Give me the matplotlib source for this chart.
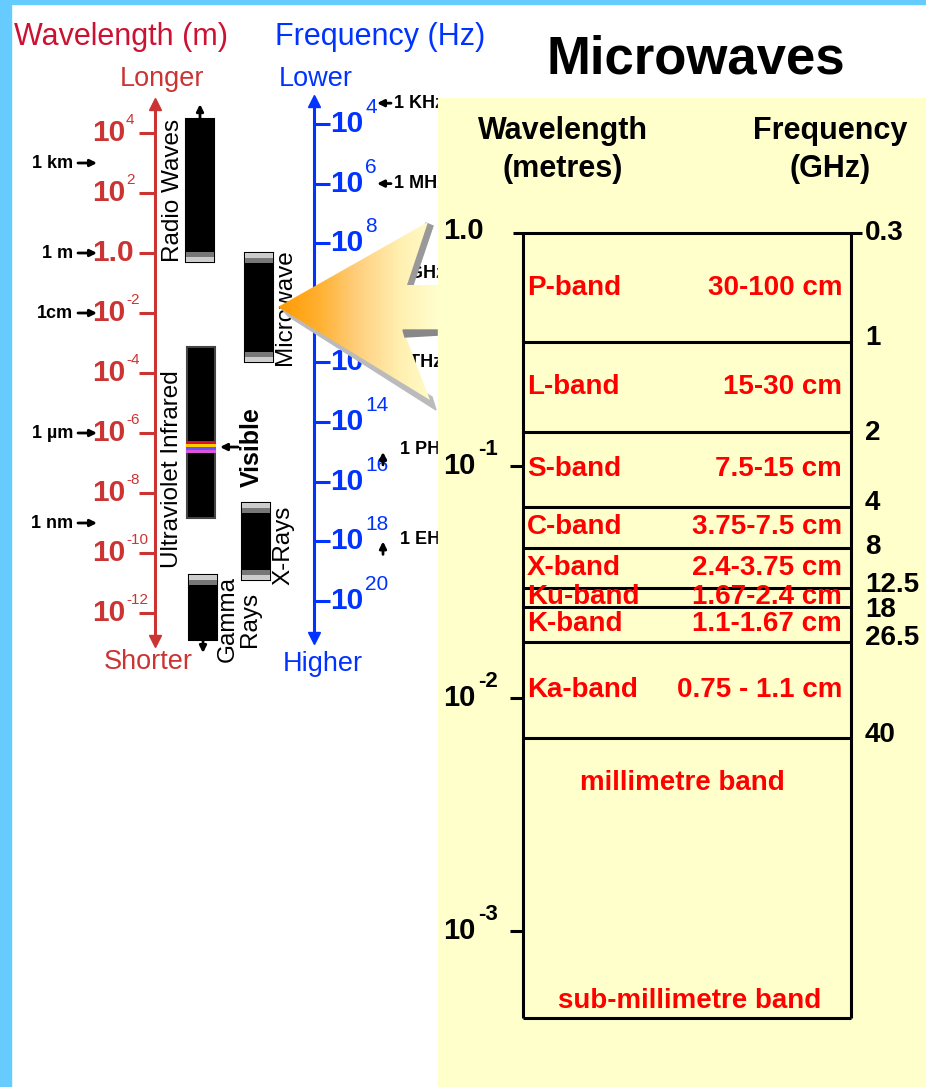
import numpy as np
import matplotlib
matplotlib.use("Agg")
import matplotlib.pyplot as plt
from matplotlib.patches import Rectangle, Polygon
from matplotlib.colors import LinearSegmentedColormap
from matplotlib.ticker import NullLocator

plt.rcParams["font.family"] = ["Liberation Sans", "DejaVu Sans"]

# ---- left: electromagnetic spectrum (wavelength in m, frequency in Hz) ----
wl_tick_exp = [4, 2, 0, -2, -4, -6, -8, -10, -12]
freq_tick_exp = [4, 6, 8, 10, 12, 14, 16, 18, 20]

wl_marks = ["1 km", "1 m", "1cm", "1 µm", "1 nm"]
wl_mark_m = [1e3, 1.0, 1e-2, 1e-6, 1e-9]

freq_marks = ["1 KHz", "1 MHz", "1 GHz", "1 THz", "1 PHz", "1 EHz"]
freq_mark_hz = [2e3, 1e6, 1e9, 1e12, 1e15, 1e18]

spectrum = ["Radio Waves", "Microwave", "Ultraviolet Infrared", "X-Rays", "Gamma\nRays"]
spectrum_long_m = [2.9e4, 1.0, 7.4e-4, 4.6e-9, 1.85e-11]
spectrum_short_m = [0.5, 2.3e-4, 1.5e-9, 1.26e-11, 1.26e-13]
visible_edges_m = [5.4e-7, 4.3e-7, 3.4e-7, 2.7e-7, 2.15e-7]

# ---- right: microwave bands ----
band_names = ["P-band", "L-band", "S-band", "C-band", "X-band", "Ku-band", "K-band", "Ka-band"]
band_ranges = ["30-100 cm", "15-30 cm", "7.5-15 cm", "3.75-7.5 cm", "2.4-3.75 cm",
               "1.67-2.4 cm", "1.1-1.67 cm", "0.75 - 1.1 cm"]
edge_ghz = ["0.3", "1", "2", "4", "8", "12.5", "18", "26.5", "40"]
edge_wl_m = [1.0, 0.340, 0.140, 0.0664, 0.0443, 0.0298, 0.0247, 0.0175, 0.00676]
box_bottom_m = 0.000423
mw_tick_exp = [0, -1, -2, -3]

RED_HEAD = "#CC1133"
RED = "#CC3333"
BLUE = "#0033FF"
BAND_RED = "#FF0000"
PANEL = "#FFFFCC"
BORDER = "#66CCFF"

W, H = 926, 1087
fig = plt.figure(figsize=(W / 100, H / 100), dpi=100)
fig.patch.set_facecolor("white")


def pixel_axes(z):
    ax = fig.add_axes([0, 0, 1, 1], zorder=z)
    ax.set_xlim(0, W)
    ax.patch.set_visible(False)
    ax.set_xticks([])
    for s in ax.spines.values():
        s.set_visible(False)
    return ax


def log_axis(ax, v_top, y_top, v_bot, y_bot):
    # log y axis: value v_top sits on pixel row y_top, v_bot on row y_bot
    k = (np.log10(v_bot) - np.log10(v_top)) / (y_bot - y_top)
    ax.set_yscale("log")
    ax.set_ylim(10 ** (np.log10(v_top) + k * (H - y_top)),
                10 ** (np.log10(v_top) - k * y_top))
    ax.yaxis.set_minor_locator(NullLocator())
    return 10 ** abs(k)  # factor per pixel


def row(ax, y):
    return ax.transData.inverted().transform((0, H - y))[1]


def off(ax, text, x, v, dy=0, **kw):
    ax.annotate(text, (x, v), xytext=(0, dy), textcoords="offset pixels",
                annotation_clip=False, **kw)


def arrow(ax, x, v, dx, dy, head_at_xy=True):
    ax.annotate("", (x, v), xytext=(dx, dy), textcoords="offset pixels",
                annotation_clip=False,
                arrowprops=dict(arrowstyle="-|>" if head_at_xy else "<|-", color="black",
                                lw=2, mutation_scale=10, shrinkA=0, shrinkB=0))


# ---------------- wavelength axis ----------------
ax_wl = pixel_axes(1)
f_wl = log_axis(ax_wl, 1e4, 133, 1e-12, 613)
sp = ax_wl.spines["left"]
sp.set_visible(True)
sp.set_position(("data", 155))
sp.set_bounds(row(ax_wl, 641), row(ax_wl, 104))
sp.set_color(RED)
sp.set_linewidth(2.2)
ax_wl.set_yticks([10.0 ** e for e in wl_tick_exp])
ax_wl.tick_params(axis="y", direction="out", length=11.5, width=2.2, color=RED, labelleft=False)
ax_wl.plot([155], [row(ax_wl, 104)], marker="^", ms=9, color=RED, clip_on=False)
ax_wl.plot([155], [row(ax_wl, 641)], marker="v", ms=9, color=RED, clip_on=False)

num = dict(fontweight="bold", fontsize=21.5, color=RED)
for e in wl_tick_exp:
    v = 10.0 ** e
    if e == 0:
        off(ax_wl, "1.0", 134, v, ha="right", va="center", **num)
    else:
        off(ax_wl, "10", 125, v, ha="right", va="center", **num)
        off(ax_wl, str(e), 126, v, 6, ha="left", va="bottom", fontsize=11, color=RED)

for lbl, v in zip(wl_marks, wl_mark_m):
    off(ax_wl, lbl, 73, v, ha="right", va="center", fontsize=13,
        fontweight="bold", color="black")
    arrow(ax_wl, 97, v, -19, 0)

# spectrum bars
bar_x = [200, 259, 201, 256, 203]
fade_top = [False, True, False, True, True]
fade_bot = [True, True, False, True, False]
label_x = [173, 285, 172, 283, 239]
label_drop = [0, 3, 50, 5, 22]
f5 = f_wl ** 5
for i, name in enumerate(spectrum):
    lo, hi = spectrum_short_m[i], spectrum_long_m[i]
    ec = "#444444" if not (fade_top[i] or fade_bot[i]) else "black"
    ax_wl.bar(bar_x[i], hi - lo, bottom=lo, width=28, color="black", edgecolor=ec,
              linewidth=1.5, zorder=2)
    if fade_top[i]:
        ax_wl.bar(bar_x[i], hi - hi / f5, bottom=hi / f5, width=28, color="#CCCCCC", zorder=3)
        ax_wl.bar(bar_x[i], hi / f5 - hi / f5 ** 2, bottom=hi / f5 ** 2, width=28,
                  color="#777777", zorder=3)
    if fade_bot[i]:
        ax_wl.bar(bar_x[i], lo * f5 - lo, bottom=lo, width=28, color="#CCCCCC", zorder=3)
        ax_wl.bar(bar_x[i], lo * f5 ** 2 - lo * f5, bottom=lo * f5, width=28,
                  color="#777777", zorder=3)
    off(ax_wl, name, label_x[i], lo, -label_drop[i], rotation=90, ha="center",
        va="bottom", fontsize=17.5, color="black", multialignment="center", linespacing=1.0)

vis_colors = ["#DD1133", "#FFCC00", "#6655FF", "#DD55DD"]
for j, c in enumerate(vis_colors):
    top, bot = visible_edges_m[j], visible_edges_m[j + 1]
    ax_wl.bar(201, top - bot, bottom=bot, width=30, color=c, zorder=4)

vis_mid = np.sqrt(visible_edges_m[0] * visible_edges_m[-1])
arrow(ax_wl, 220, vis_mid, 18, 0)
off(ax_wl, "Visible", 252, vis_mid, -40, rotation=90, ha="center", va="bottom",
    fontsize=18, fontweight="bold", color="black")
arrow(ax_wl, 200, spectrum_long_m[0], 0, 15, head_at_xy=False)
arrow(ax_wl, 203, spectrum_short_m[4], 0, -13, head_at_xy=False)

# ---------------- frequency axis ----------------
ax_f = pixel_axes(1)
log_axis(ax_f, 1e4, 124, 1e20, 601)
sp = ax_f.spines["left"]
sp.set_visible(True)
sp.set_position(("data", 314))
sp.set_bounds(row(ax_f, 101), row(ax_f, 638))
sp.set_color(BLUE)
sp.set_linewidth(2.2)
ax_f.set_yticks([10.0 ** e for e in freq_tick_exp])
ax_f.tick_params(axis="y", direction="in", length=11.5, width=2.2, color=BLUE, labelleft=False)
ax_f.plot([314], [row(ax_f, 101)], marker="^", ms=9, color=BLUE, clip_on=False)
ax_f.plot([314], [row(ax_f, 638)], marker="v", ms=9, color=BLUE, clip_on=False)

for e in freq_tick_exp:
    v = 10.0 ** e
    off(ax_f, "10", 330, v, ha="left", va="center", fontweight="bold", fontsize=21.5, color=BLUE)
    off(ax_f, str(e), 365, v, 7, ha="left", va="bottom", fontsize=15, color=BLUE)

mark = dict(va="center", ha="left", fontsize=13, fontweight="bold", color="black")
for lbl, v in zip(freq_marks, freq_mark_hz):
    if v < 1e13:
        arrow(ax_f, 377, v, 14, 0)
        off(ax_f, lbl, 394, v, **mark)
    else:
        off(ax_f, lbl, 400, v, 2, **mark)
        arrow(ax_f, 383, v, 0, -13)

# ---------------- background layer: panel, cone, headings ----------------
ax_bg = pixel_axes(2)
ax_bg.add_patch(Rectangle((0, 0), 11, H, color=BORDER, zorder=10))
ax_bg.add_patch(Rectangle((0, 0), W, 4, color=BORDER, zorder=10))
ax_bg.add_patch(Rectangle((438, 98), W - 438, H - 98, color=PANEL, zorder=5))

ax_bg.add_patch(Polygon([(282, 309), (432, 397), (436, 410), (288, 316)],
                        color="#BBBBBB", zorder=2.8))
ax_bg.add_patch(Polygon([(426, 223), (433, 226), (412, 288), (406, 286)],
                        color="#999999", zorder=2.8))
ax_bg.add_patch(Polygon([(403, 330), (440, 330), (440, 335), (405, 337)],
                        color="#888888", zorder=3.5))
cone = Polygon([(278, 307), (428, 222), (407, 285), (440, 285), (440, 330),
                (404, 332), (430, 400)], closed=True, facecolor="none", edgecolor="none")
ax_bg.add_patch(cone)
cone_cmap = LinearSegmentedColormap.from_list(
    "cone", ["#FF9900", "#FFB030", "#FFD080", "#FFEFB0", "#FFFFD0"])
im = ax_bg.imshow(np.linspace(0, 1, 256).reshape(1, -1), cmap=cone_cmap,
                  extent=(278, 440, 405, 220), aspect="auto", zorder=3)
im.set_clip_path(cone)

ax_bg.text(14, 37, "Wavelength (m)", color=RED_HEAD, fontsize=22, ha="left", va="center")
ax_bg.text(275, 37, "Frequency (Hz)", color=BLUE, fontsize=22, ha="left", va="center")
ax_bg.text(162, 79, "Longer", color=RED, fontsize=19.5, ha="center", va="center")
ax_bg.text(316, 79, "Lower", color=BLUE, fontsize=19.5, ha="center", va="center")
ax_bg.text(148, 662, "Shorter", color=RED, fontsize=19.5, ha="center", va="center")
ax_bg.text(323, 664, "Higher", color=BLUE, fontsize=19.5, ha="center", va="center")
ax_bg.text(696, 73, "Microwaves", fontsize=38, fontweight="bold", ha="center", va="baseline")
head = dict(fontsize=22, fontweight="bold", ha="center", va="center", zorder=6)
ax_bg.text(563, 131, "Wavelength", **head)
ax_bg.text(563, 169, "(metres)", **head)
ax_bg.text(830, 131, "Frequency", **head)
ax_bg.text(830, 169, "(GHz)", **head)
ax_bg.set_xlim(0, W)
ax_bg.set_ylim(H, 0)
ax_bg.set_yticks([])

# ---------------- microwave band table ----------------
ax_mw = pixel_axes(3)
log_axis(ax_mw, 1.0, 233, 1e-3, 931)
ax_mw.set_yticks([])
lw = 2.2
ax_mw.hlines(edge_wl_m[0], 513, 862, color="black", lw=lw)
ax_mw.hlines(edge_wl_m[1:] + [box_bottom_m], 523, 851, color="black", lw=lw)
ax_mw.vlines([523, 851], box_bottom_m, edge_wl_m[0], color="black", lw=lw)
ax_mw.hlines([10.0 ** e for e in mw_tick_exp[1:]], 510, 523, color="black", lw=lw)

for e in mw_tick_exp:
    v = 10.0 ** e
    if e == 0:
        off(ax_mw, "1.0", 443, v, 2, ha="left", va="center", fontsize=21, fontweight="bold")
    else:
        off(ax_mw, "10", 443, v, ha="left", va="center", fontsize=21, fontweight="bold")
        off(ax_mw, str(e), 478, v, 6, ha="left", va="bottom", fontsize=16, fontweight="bold")

edge_nudge = [0, 4, -1, 4, 1, 3, -3, 4, 3]
for lbl, v, dy in zip(edge_ghz, edge_wl_m, edge_nudge):
    off(ax_mw, lbl, 865, v, dy, ha="left", va="center", fontsize=20, fontweight="bold")

red_txt = dict(color=BAND_RED, fontsize=20, fontweight="bold", va="center")
for i, (nm, rg) in enumerate(zip(band_names, band_ranges)):
    mid = np.sqrt(edge_wl_m[i] * edge_wl_m[i + 1])
    off(ax_mw, nm, 527, mid, ha="left", **red_txt)
    off(ax_mw, rg, 842, mid, ha="right", **red_txt)

off(ax_mw, "millimetre band", 682, edge_wl_m[-1], -45, ha="center", **red_txt)
off(ax_mw, "sub-millimetre band", 690, box_bottom_m, 17, ha="center", **red_txt)

fig.savefig("out.png", dpi=100, facecolor="white")
